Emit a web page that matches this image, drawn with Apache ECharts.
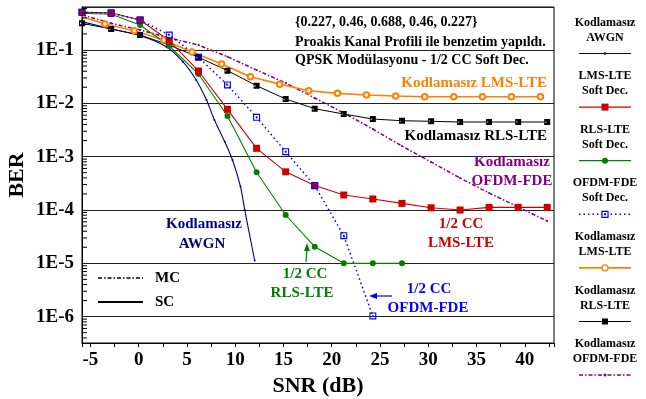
<!DOCTYPE html>
<html>
<head>
<meta charset="utf-8">
<script src="https://cdn.jsdelivr.net/npm/echarts@6/dist/echarts.min.js"></script>
<style>
  html, body { margin: 0; padding: 0; background: #fff; }
  #chart { width: 646px; height: 399px; }
</style>
</head>
<body>
<div id="chart"></div>
<script>
// SNR points (dB) used by most curves
const snr = [-5.87, -2.85, 0.15, 3.17, 6.2, 9.2, 12.22, 15.23, 18.24, 21.25, 24.26, 27.28, 30.3, 33.3, 36.3, 39.32, 42.33];
// uncoded AWGN reference curve
const awgnSnr = [-5.87, -2.66, 0.27, 2.86, 4.58, 5.96, 7.03, 7.85, 8.92, 9.72, 10.55, 10.99, 12.02];
const awgnBer = [0.34, 0.244, 0.183, 0.115, 0.0604, 0.0274, 0.01155, 0.00487, 0.00191, 8.66e-4, 2.75e-4, 1.0e-4, 1.13e-5];
// 1/2 CC soft decision
const lmsSoftBer = [0.509, 0.5, 0.365, 0.149, 0.0404, 0.00773, 0.001435, 5.2e-4, 2.88e-4, 1.91e-4, 1.61e-4, 1.33e-4, 1.1e-4, 1.0e-4, 1.12e-4, 1.12e-4, 1.12e-4];
const rlsSoftBer = [0.488, 0.467, 0.294, 0.119, 0.0355, 0.00579, 5.09e-4, 8.06e-5, 2.05e-5, 1e-5, 1e-5, 1e-5];
const fdeSoftBer = [0.509, 0.488, 0.365, 0.191, 0.073, 0.0221, 5.47e-3, 1.24e-3, 2.86e-4, 3.3e-5, 1.03e-6];
// uncoded equalizers
const lmsSnr = [-5.87, -3.5, -0.45, 2.6, 5.53, 8.6, 11.58, 14.61, 17.62, 20.6, 23.6, 26.63, 29.64, 32.65, 35.62, 38.62, 41.63];
const lmsBer = [0.42, 0.307, 0.23, 0.154, 0.092, 0.0546, 0.0316, 0.0229, 0.01726, 0.0154, 0.0143, 0.0137, 0.0133, 0.0133, 0.0133, 0.0133, 0.0133];
const rlsBer = [0.316, 0.248, 0.191, 0.124, 0.073, 0.041, 0.0214, 0.01206, 0.00794, 0.0063, 0.00508, 0.00472, 0.0046, 0.00447, 0.00447, 0.00447, 0.00447];
const fdeBer = [0.453, 0.318, 0.237, 0.168, 0.124, 0.075, 0.042, 0.0241, 0.0126, 0.00659, 0.0033, 0.00158, 7.94e-4, 3.98e-4, 2.08e-4, 1.14e-4, 6.2e-5];

const yMin = 3.21e-7, yMax = 0.64;
const xMin = -5.87, xMax = 43.03;

const FONT = '"Liberation Serif", "Times New Roman", serif';
const C = { awgn: '#000080', red: '#cc0000', green: '#008000', blue: '#0000ff', orange: '#ff8000', black: '#000000', purple: '#800080' };
const fdeSym = 'path://M0,0H10V10H0Z M1.6,1.6V8.4H8.4V1.6Z M3.8,3.8H6.2V6.2H3.8Z';
const boxSym = 'path://M0,0H10V10H0Z M1.5,3L1.5,7L5,5Z M8.5,3L8.5,7L5,5Z';

function pairs(xs, ys) { return ys.map((y, i) => [xs[i], y]); }

const chart = echarts.init(document.getElementById('chart'));
chart.setOption({
  animation: false,
  grid: { left: 82, top: 7, width: 472, height: 336, show: true, borderColor: '#000', borderWidth: 1, outerBoundsMode: 'none', containLabel: false },
  xAxis: {
    type: 'value', min: xMin, max: xMax, splitNumber: 10,
    name: 'SNR (dB)', nameLocation: 'middle', nameGap: 32,
    nameTextStyle: { fontFamily: FONT, fontWeight: 'bold', fontSize: 22, color: '#000' },
    axisLine: { onZero: false, lineStyle: { color: '#000', width: 1 } },
    axisTick: { show: true, length: 4, lineStyle: { color: '#000' } },
    minorTick: { show: true, splitNumber: 2, length: 4, lineStyle: { color: '#000' } },
    splitLine: { show: false },
    axisLabel: {
      fontFamily: FONT, fontWeight: 'bold', fontSize: 19, color: '#000', margin: 8,
      showMinLabel: false, showMaxLabel: false,
      formatter: v => (Math.abs(v / 5 - Math.round(v / 5)) < 1e-6 ? String(Math.round(v)) : '')
    }
  },
  yAxis: {
    type: 'log', min: yMin, max: yMax,
    axisLine: { onZero: false, lineStyle: { color: '#000', width: 1 } },
    axisTick: { show: false },
    splitLine: { show: true, lineStyle: { color: '#222', width: 1 } },
    axisLabel: {
      fontFamily: FONT, fontWeight: 'bold', fontSize: 19, color: '#000', margin: 8,
      showMinLabel: false, showMaxLabel: false,
      formatter: v => {
        const e = Math.log10(v);
        return Math.abs(e - Math.round(e)) < 1e-6 ? '1E' + Math.round(e) : '';
      }
    }
  },
  series: [
    { name: 'Kodlamasız OFDM-FDE', type: 'line', data: pairs(snr, fdeBer), symbol: 'circle', symbolSize: 2,
      itemStyle: { color: C.purple }, lineStyle: { color: C.purple, width: 1.5, type: [4, 2, 1.5, 2] } },
    { name: 'Kodlamasız LMS-LTE', type: 'line',
      data: pairs(lmsSnr, lmsBer).map((p, i) => (i === 0 ? { value: p, symbol: 'none' } : p)),
      symbol: 'emptyCircle', symbolSize: 5.5,
      itemStyle: { color: C.orange, borderWidth: 1.2 }, lineStyle: { color: C.orange, width: 1.6 } },
    { name: 'Kodlamasız RLS-LTE', type: 'line', data: pairs(snr, rlsBer), symbol: boxSym, symbolSize: 6,
      itemStyle: { color: C.black, borderWidth: 0 }, lineStyle: { color: C.black, width: 1 } },
    { name: 'Kodlamasız AWGN', type: 'line', data: pairs(awgnSnr, awgnBer), symbol: 'circle', symbolSize: 2, smooth: 0.3,
      itemStyle: { color: C.awgn }, lineStyle: { color: C.awgn, width: 1.1 } },
    { name: 'RLS-LTE Soft Dec.', type: 'line', data: pairs(snr, rlsSoftBer), symbol: 'circle', symbolSize: 6,
      itemStyle: { color: C.green }, lineStyle: { color: C.green, width: 1.1 } },
    { name: 'LMS-LTE Soft Dec.', type: 'line', data: pairs(snr, lmsSoftBer), symbol: 'rect', symbolSize: 7,
      itemStyle: { color: C.red }, lineStyle: { color: C.red, width: 1.1 } },
    { name: 'OFDM-FDE Soft Dec.', type: 'line', data: pairs(snr, fdeSoftBer), symbol: fdeSym, symbolSize: 7,
      itemStyle: { color: C.blue, borderWidth: 0 }, lineStyle: { color: C.blue, width: 1.5, type: [1.5, 3] } }
  ]
});

// ---- decorations: minor log ticks, annotations, legend panel ----
const g = [];
function txt(x, y, s, color, size, align) {
  g.push({ type: 'text', x: x, y: y, silent: true, z: 100,
    style: { text: s, fill: color, font: 'bold ' + size + 'px ' + FONT, align: align || 'center', verticalAlign: 'middle' } });
}
function seg(x1, y1, x2, y2, color, width, dash) {
  g.push({ type: 'line', silent: true, z: 100, shape: { x1: x1, y1: y1, x2: x2, y2: y2 },
    style: { stroke: color, lineWidth: width || 1, lineDash: dash || null } });
}

// y axis title
g.push({ type: 'text', x: 17, y: 175, rotation: Math.PI / 2, silent: true, z: 100,
  style: { text: 'BER', fill: '#000', font: 'bold 22px ' + FONT, align: 'center', verticalAlign: 'middle' } });

// minor ticks on the log axis (2..9 of every decade)
for (let d = -7; d <= 0; d++) {
  for (let m = 2; m <= 9; m++) {
    const v = m * Math.pow(10, d);
    if (v <= yMin || v >= yMax) continue;
    const py = chart.convertToPixel({ yAxisIndex: 0 }, v);
    seg(82, py, 87, py, '#000', 1);
  }
}

// info text
txt(295, 22, '{0.227, 0.46, 0.688, 0.46, 0.227}', '#000', 14, 'left');
txt(295, 42, 'Proakis Kanal Profili ile benzetim yapıldı.', '#000', 14, 'left');
txt(295, 60, 'QPSK Modülasyonu - 1/2 CC Soft Dec.', '#000', 14, 'left');

// curve labels
txt(547, 83, 'Kodlamasız LMS-LTE', C.orange, 15, 'right');
txt(547, 136, 'Kodlamasız RLS-LTE', C.black, 15, 'right');
txt(512, 162, 'Kodlamasız', C.purple, 15);
txt(512, 181, 'OFDM-FDE', C.purple, 15);
txt(204, 224, 'Kodlamasız', C.awgn, 15);
txt(202, 244, 'AWGN', C.awgn, 15);
txt(305, 274, '1/2 CC', C.green, 15);
txt(302, 293, 'RLS-LTE', C.green, 15);
txt(461, 224, '1/2 CC', C.red, 15);
txt(461, 243, 'LMS-LTE', C.red, 15);
txt(429, 289, '1/2 CC', C.blue, 15);
txt(428, 308, 'OFDM-FDE', C.blue, 15);

// arrows
seg(306, 262, 307, 249, C.green, 1.2);
g.push({ type: 'polygon', silent: true, z: 100, shape: { points: [[307, 243], [304, 251], [310, 251]] }, style: { fill: C.green } });
seg(392, 296, 375, 296, C.blue, 1.2);
g.push({ type: 'polygon', silent: true, z: 100, shape: { points: [[369, 296], [377, 293], [377, 299]] }, style: { fill: C.blue } });

// MC / SC key
seg(98, 278, 143, 278, '#000', 1.5, [4, 2, 1.5, 2]);
txt(155, 278, 'MC', '#000', 15, 'left');
seg(98, 302, 143, 302, '#000', 2);
txt(155, 302, 'SC', '#000', 15, 'left');

// legend panel on the right
const legendItems = [
  ['Kodlamasız', 'AWGN'], ['LMS-LTE', 'Soft Dec.'], ['RLS-LTE', 'Soft Dec.'], ['OFDM-FDE', 'Soft Dec.'],
  ['Kodlamasız', 'LMS-LTE'], ['Kodlamasız', 'RLS-LTE'], ['Kodlamasız', 'OFDM-FDE']
];
const lx = 605;
legendItems.forEach((lines, i) => {
  const ly = 53.5 + i * 53.6;
  txt(lx, ly - 31, lines[0], '#000', 12);
  txt(lx, ly - 16, lines[1], '#000', 12);
  if (i === 0) {
    seg(579, ly, 631, ly, C.awgn, 1.2);
    g.push({ type: 'circle', silent: true, z: 101, shape: { cx: lx, cy: ly, r: 1.2 }, style: { fill: C.awgn } });
  } else if (i === 1) {
    seg(579, ly, 631, ly, C.red, 1.2);
    g.push({ type: 'rect', silent: true, z: 101, shape: { x: lx - 3.5, y: ly - 3.5, width: 7, height: 7 }, style: { fill: C.red } });
  } else if (i === 2) {
    seg(579, ly, 631, ly, C.green, 1.2);
    g.push({ type: 'circle', silent: true, z: 101, shape: { cx: lx, cy: ly, r: 3 }, style: { fill: C.green } });
  } else if (i === 3) {
    seg(579, ly, 631, ly, C.blue, 1.5, [1.5, 3]);
    g.push({ type: 'rect', silent: true, z: 101, shape: { x: lx - 3, y: ly - 3, width: 6, height: 6 }, style: { fill: '#fff', stroke: C.blue, lineWidth: 1.2 } });
    g.push({ type: 'rect', silent: true, z: 102, shape: { x: lx - 1, y: ly - 1, width: 2, height: 2 }, style: { fill: C.blue } });
  } else if (i === 4) {
    seg(579, ly, 631, ly, C.orange, 1.6);
    g.push({ type: 'circle', silent: true, z: 101, shape: { cx: lx, cy: ly, r: 3 }, style: { fill: '#fff', stroke: C.orange, lineWidth: 1.2 } });
  } else if (i === 5) {
    seg(579, ly, 631, ly, C.black, 1.2);
    g.push({ type: 'rect', silent: true, z: 101, shape: { x: lx - 3, y: ly - 3, width: 6, height: 6 }, style: { fill: C.black } });
  } else {
    seg(579, ly, 631, ly, C.purple, 1.5, [4, 2, 1.5, 2]);
    g.push({ type: 'circle', silent: true, z: 101, shape: { cx: lx, cy: ly, r: 1.5 }, style: { fill: C.purple } });
  }
});

chart.setOption({ graphic: g });
</script>
</body>
</html>
